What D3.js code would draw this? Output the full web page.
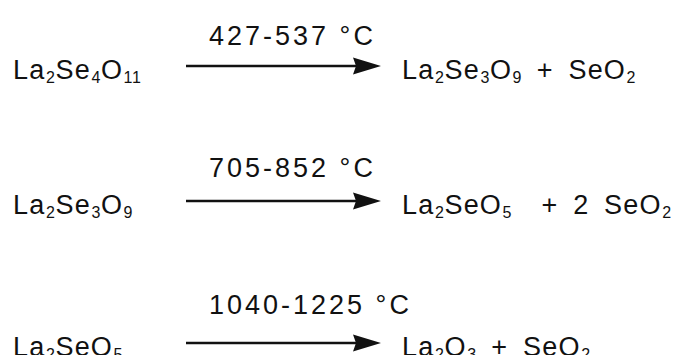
<!DOCTYPE html>
<html><head><meta charset="utf-8">
<script src="https://cdn.jsdelivr.net/npm/d3@7"></script>
<style>html,body{margin:0;padding:0;background:#fff;} svg{display:block;}</style>
</head><body><div id="chart"></div>
<script>
// ---- data ----
const steps = [0, 1, 2];
const reactants = ["La2Se4O11", "La2Se3O9", "La2SeO5"];
const products = ["La2Se3O9 + SeO2", "La2SeO5  + 2 SeO2", "La2O3 + SeO2"];
const temperatures = ["427-537 °C", "705-852 °C", "1040-1225 °C"];

// ---- layout ----
const W = 676, H = 355;
const svg = d3.select("#chart").append("svg").attr("width", W).attr("height", H)
  .style("font-family", "'Liberation Sans', Arial, Helvetica, sans-serif");

const yArrow = d3.scaleLinear().domain([0, 1, 2]).range([66, 201, 343]);
const yTemp = d3.scaleLinear().domain([0, 1, 2]).range([45, 177, 314]);
const col = d3.scaleOrdinal().domain(["reactant", "arrowStart", "temp", "arrowEnd", "product"])
  .range([13, 186, 209, 381, 402]);

const mainSize = 27, subSize = 16, subShift = 4;

function tokens(str) {
  const out = []; let prevLetter = false;
  for (const ch of str) {
    const isDigit = /[0-9]/.test(ch);
    const sub = isDigit && prevLetter;
    if (out.length && out[out.length - 1].sub === sub) out[out.length - 1].t += ch;
    else out.push({ t: ch, sub });
    prevLetter = /[A-Za-z]/.test(ch) || sub;
  }
  return out;
}

function formula(sel, str) {
  let cur = 0;
  tokens(str).forEach(tk => {
    const target = tk.sub ? subShift : 0;
    sel.append("tspan")
      .attr("dy", target - cur)
      .attr("font-size", tk.sub ? subSize : mainSize)
      .attr("letter-spacing", tk.sub ? 0.6 : 1.2)
      .attr("dx", tk.sub ? 0.5 : 0)
      .text(tk.t);
    cur = target;
  });
}

const rows = svg.selectAll("g.row").data(steps).join("g").attr("class", "row");

rows.append("text")
  .attr("x", col("reactant")).attr("y", d => yArrow(d) + 13)
  .attr("fill", "#111")
  .style("white-space", "pre")
  .each(function (d) { formula(d3.select(this), reactants[d]); });

rows.append("text")
  .attr("x", col("product")).attr("y", d => yArrow(d) + 13)
  .attr("fill", "#111").attr("word-spacing", 6)
  .style("white-space", "pre")
  .each(function (d) { formula(d3.select(this), products[d]); });

rows.append("text")
  .attr("x", col("temp")).attr("y", d => yTemp(d))
  .attr("fill", "#111").attr("font-size", mainSize).attr("letter-spacing", 3)
  .style("white-space", "pre")
  .text(d => temperatures[d]);

rows.append("line")
  .attr("x1", col("arrowStart")).attr("x2", col("arrowEnd") - 20)
  .attr("y1", d => yArrow(d)).attr("y2", d => yArrow(d))
  .attr("stroke", "#111").attr("stroke-width", 2.6);

rows.append("path")
  .attr("d", d => {
    const e = col("arrowEnd"), c = yArrow(d);
    return `M${e},${c} L${e - 28},${c - 8.5} L${e - 25},${c} L${e - 28},${c + 8.5} Z`;
  })
  .attr("fill", "#111");
</script></body></html>
